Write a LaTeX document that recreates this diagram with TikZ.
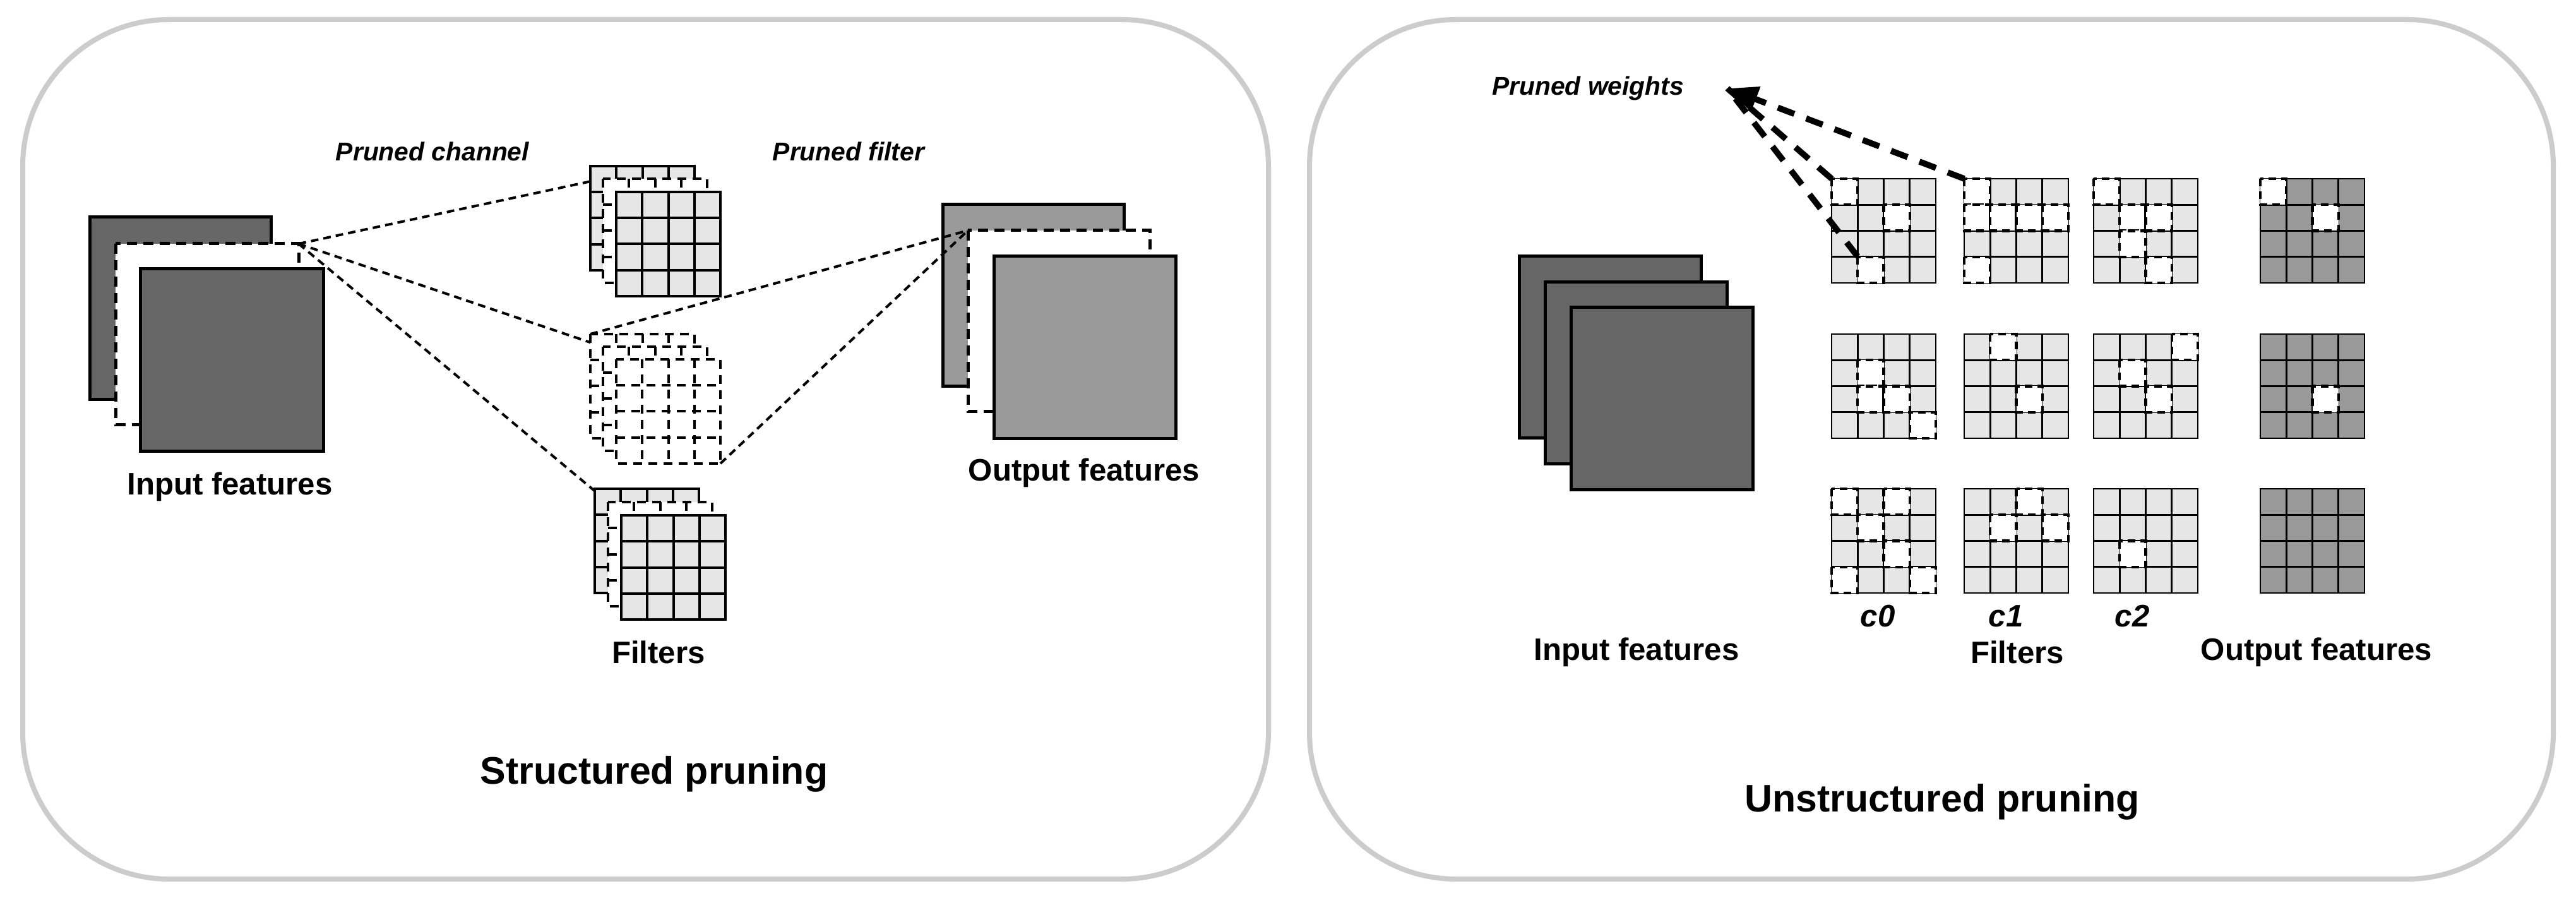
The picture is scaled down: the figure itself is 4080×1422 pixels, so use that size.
\documentclass[tikz,border=0pt]{standalone}
\usepackage{fontspec}
\setmainfont{Liberation Sans}
\usetikzlibrary{arrows.meta}
\definecolor{dk}{HTML}{666666}
\definecolor{md}{HTML}{999999}
\definecolor{lt}{HTML}{E6E6E6}
\definecolor{frame}{HTML}{CCCCCC}
\newcommand\fgrid[4]{%
  \draw[#4,fill=#3] (#1,#2) rectangle ++(165,165);
  \foreach \i in {1,2,3} {\draw[#4] ({#1+\i*41.25},#2) -- ++(0,165); \draw[#4] (#1,{#2+\i*41.25}) -- ++(165,0);}%
}
\newcommand\ugrid[4]{%
  \draw[gline,fill=#3] (#1,#2) rectangle ++(165,165);
  \foreach \i in {1,2,3} {\draw[gline] ({#1+\i*41.25},#2) -- ++(0,165); \draw[gline] (#1,{#2+\i*41.25}) -- ++(165,0);}%
  \foreach \c/\r in {#4} {\draw[pcell] ({#1+\c*41.25},{#2+\r*41.25}) rectangle ++(41.25,41.25);}%
}
\tikzset{
  panel/.style={draw=frame,line width=2pt,rounded corners=58pt},
  solidL/.style={line width=1.25pt},
  dashL/.style={line width=1.25pt,dash pattern=on 4pt off 2.5pt},
  gsolid/.style={line width=1pt},
  gdash/.style={line width=1pt,dash pattern=on 3.5pt off 2.5pt},
  gline/.style={line width=0.7pt},
  pcell/.style={line width=1.1pt,fill=white,dash pattern=on 3pt off 2pt},
  conn/.style={line width=1pt,dash pattern=on 3pt off 2pt},
  bigconn/.style={line width=2.4pt,dash pattern=on 7pt off 5pt},
  lab/.style={font=\bfseries\fontsize{12.3pt}{14pt}\selectfont},
  title/.style={font=\bfseries\fontsize{15.2pt}{17pt}\selectfont},
  note/.style={font=\bfseries\itshape\fontsize{10.2pt}{12pt}\selectfont},
  cl/.style={font=\bfseries\itshape\fontsize{12.3pt}{14pt}\selectfont},
}
\begin{document}
\begin{tikzpicture}[x=0.25pt,y=-0.25pt]
\useasboundingbox (0,0) rectangle (4080,1422);
\fill[white] (0,0) rectangle (4080,1422);
\draw[panel] (36,31) rectangle (2009,1392);
\draw[panel] (2074,31) rectangle (4044,1392);

% ---------- structured ----------
\draw[solidL,fill=dk] (142,344) rectangle (429,633);
\draw[dashL,fill=white] (183,386) rectangle (473,672);
\draw[solidL,fill=dk] (222,426) rectangle (512,714);
\coordinate (pc) at (473,386);
\coordinate (t2) at (955,283);
\coordinate (m1) at (935,529);
\coordinate (m2) at (955,549);
\coordinate (m3) at (1141,734);
\coordinate (b2) at (963,795);
\draw[conn] (pc) -- (t2);
\draw[conn] (pc) -- (m2);
\draw[conn] (pc) -- (b2);
% top stack
\fgrid{935}{263}{lt}{gsolid}
\fgrid{955}{283}{white}{gdash}
\fgrid{976}{304}{lt}{gsolid}
% middle stack
\fgrid{935}{529}{white}{gdash}
\fgrid{955}{549}{white}{gdash}
\fgrid{976}{569}{white}{gdash}
% bottom stack
\fgrid{942}{774}{lt}{gsolid}
\fgrid{963}{795}{white}{gdash}
\fgrid{984}{816}{lt}{gsolid}
% output
\draw[solidL,fill=md] (1493,324) rectangle (1780,612);
\draw[dashL,fill=white] (1533,365) rectangle (1821,652);
\draw[solidL,fill=md] (1574,406) rectangle (1862,694);
\coordinate (oc) at (1533,365);
\draw[conn] (m1) -- (oc);
\draw[conn] (m3) -- (oc);

\node[lab] (inl) at (364,771) {Input features};
\node[lab] (outl) at (1717,749) {Output features};
\node[lab] (fl) at (1043,1033) {Filters};
\node[note] (pch) at (685,240) {Pruned channel};
\node[note] (pfi) at (1344,240) {Pruned filter};
\node[title] (st) at (1036,1226) {Structured pruning};

% ---------- unstructured ----------
\draw[solidL,fill=dk] (2406,406) rectangle (2694,693);
\draw[solidL,fill=dk] (2447,447) rectangle (2735,734);
\draw[solidL,fill=dk] (2488,487) rectangle (2776,775);

\ugrid{2901}{283}{lt}{0/0,2/1,1/3}
\ugrid{3111}{283}{lt}{0/0,0/1,1/1,2/1,3/1,0/3}
\ugrid{3316}{283}{lt}{0/0,1/1,2/1,1/2,2/3}
\ugrid{3580}{283}{md}{0/0,2/1}
\ugrid{2901}{529}{lt}{1/1,1/2,2/2,3/3}
\ugrid{3111}{529}{lt}{1/0,2/2}
\ugrid{3316}{529}{lt}{3/0,1/1,2/2}
\ugrid{3580}{529}{md}{2/2}
\ugrid{2901}{774}{lt}{0/0,2/0,1/1,2/2,0/3,3/3}
\ugrid{3111}{774}{lt}{2/0,1/1,3/1}
\ugrid{3316}{774}{lt}{1/2}
\ugrid{3580}{774}{md}{}

\coordinate (tip) at (2736,140);
\coordinate (wa) at (2901,283);
\coordinate (wb) at (2942,406);
\coordinate (wc) at (3111,283);
\draw[bigconn] (wa) -- (tip);
\draw[bigconn] (wb) -- (tip);
\draw[bigconn,-{Triangle[length=12pt,width=10pt]}] (wc) -- (tip);

\node[note] (pw) at (2515,140) {Pruned weights};
\node[cl] (c0) at (2974,976) {c0};
\node[cl] (c1) at (3177,976) {c1};
\node[cl] (c2) at (3377,976) {c2};
\node[lab] (inr) at (2592,1033) {Input features};
\node[lab] (fr) at (3195,1033) {Filters};
\node[lab] (outr) at (3669,1033) {Output features};
\node[title] (ut) at (3076,1270) {Unstructured pruning};
\end{tikzpicture}
\end{document}
